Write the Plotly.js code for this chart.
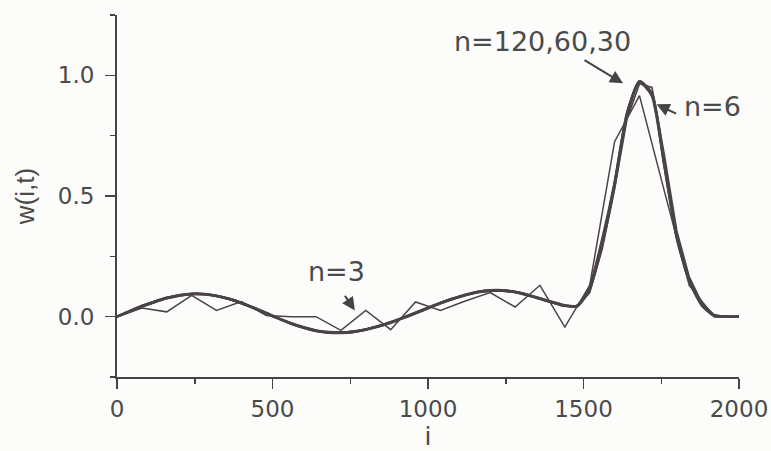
<!DOCTYPE html>
<html>
<head>
<meta charset="utf-8">
<script src="https://cdn.plot.ly/plotly-3.0.1.min.js"></script>
<style>html,body{margin:0;padding:0;background:#fcfcfa;}#chart{width:771px;height:451px;}</style>
</head>
<body>
<div id="chart"></div>
<script>
// site index i for the fine curves (step 40)
var iFine = [0,40,80,120,160,200,240,280,320,360,400,440,480,520,560,600,640,680,720,760,800,840,880,920,960,1000,1040,1080,1120,1160,1200,1240,1280,1320,1360,1400,1440,1480,1520,1560,1600,1640,1680,1720,1760,1800,1840,1880,1920,1960,2000];
var wN120 = [0.000,0.022,0.043,0.061,0.077,0.088,0.094,0.093,0.086,0.073,0.056,0.036,0.014,-0.008,-0.028,-0.045,-0.058,-0.065,-0.066,-0.062,-0.053,-0.040,-0.024,-0.005,0.015,0.036,0.056,0.074,0.090,0.102,0.108,0.108,0.102,0.090,0.075,0.060,0.046,0.045,0.120,0.310,0.550,0.840,0.975,0.920,0.630,0.330,0.150,0.050,0.005,0.000,0.000];
var wN60  = [0.000,0.023,0.044,0.062,0.078,0.089,0.095,0.094,0.087,0.074,0.057,0.037,0.015,-0.007,-0.027,-0.044,-0.057,-0.064,-0.066,-0.063,-0.054,-0.041,-0.025,-0.006,0.014,0.035,0.055,0.073,0.089,0.101,0.107,0.108,0.103,0.091,0.076,0.061,0.047,0.044,0.115,0.300,0.545,0.835,0.975,0.925,0.635,0.335,0.152,0.050,0.005,0.000,0.000];
var wN30  = [0.000,0.021,0.042,0.060,0.076,0.087,0.093,0.093,0.086,0.074,0.057,0.036,0.014,-0.008,-0.029,-0.046,-0.059,-0.066,-0.067,-0.063,-0.053,-0.040,-0.023,-0.004,0.016,0.037,0.057,0.075,0.091,0.103,0.109,0.109,0.102,0.090,0.074,0.059,0.045,0.046,0.125,0.320,0.555,0.845,0.972,0.915,0.625,0.325,0.148,0.048,0.004,0.000,0.000];
var wN6   = [0.000,0.024,0.046,0.064,0.079,0.090,0.096,0.094,0.086,0.072,0.055,0.035,0.013,-0.009,-0.030,-0.046,-0.059,-0.066,-0.066,-0.061,-0.052,-0.039,-0.023,-0.004,0.017,0.038,0.058,0.076,0.091,0.103,0.108,0.107,0.100,0.088,0.073,0.058,0.044,0.042,0.100,0.280,0.530,0.820,0.965,0.950,0.670,0.355,0.165,0.058,0.008,0.000,0.000];
// coarse curve n=3 (step 80)
var iN3 = [0,80,160,240,320,400,480,560,640,720,800,880,960,1040,1120,1200,1280,1360,1440,1520,1600,1680,1760,1840,1920,2000];
var wN3 = [0.000,0.036,0.020,0.088,0.026,0.063,0.005,0.000,0.000,-0.057,0.026,-0.054,0.061,0.026,0.065,0.100,0.040,0.130,-0.043,0.130,0.725,0.916,0.520,0.130,0.000,0.000];

var lineCol = '#4a4447';
var traces = [
  {x:iFine, y:wN120, name:'n=120', mode:'lines', line:{color:lineCol, width:2.6, shape:'spline', smoothing:0.6}},
  {x:iFine, y:wN60,  name:'n=60',  mode:'lines', line:{color:lineCol, width:2.6, shape:'spline', smoothing:0.6}},
  {x:iFine, y:wN30,  name:'n=30',  mode:'lines', line:{color:lineCol, width:2.6, shape:'spline', smoothing:0.6}},
  {x:iFine, y:wN6,   name:'n=6',   mode:'lines', line:{color:lineCol, width:1.7}},
  {x:iN3,   y:wN3,   name:'n=3',   mode:'lines', line:{color:lineCol, width:1.5}}
];

var wide = 'DejaVu Sans, Verdana, sans-serif';
var txtFont = {family:wide, size:27, color:'#4a4a4a'};
var layout = {
  width:771, height:451,
  paper_bgcolor:'#fcfcfa', plot_bgcolor:'#fcfcfa',
  margin:{l:117, r:32, t:15, b:74},
  showlegend:false,
  xaxis:{
    range:[0,2000], tickvals:[0,500,1000,1500,2000], ticktext:['0','500','1000','1500','2000'],
    ticks:'outside', ticklen:10, tickwidth:1.5, tickcolor:'#444',
    minor:{tickvals:[250,750,1250,1750], ticks:'outside', ticklen:5, tickwidth:1.5, tickcolor:'#444'},
    showline:true, linecolor:'#444', linewidth:2, showgrid:false, zeroline:false,
    tickfont:{family:wide, size:23, color:'#4a4a4a'},
    title:{text:'i', font:{family:wide, size:25, color:'#4a4a4a'}, standoff:2}
  },
  yaxis:{
    range:[-0.25,1.25], tickvals:[0,0.5,1.0], ticktext:['0.0','0.5','1.0'],
    ticks:'outside', ticklen:10, tickwidth:1.5, tickcolor:'#444',
    minor:{tickvals:[-0.25,0.25,0.75,1.25], ticks:'outside', ticklen:5, tickwidth:1.5, tickcolor:'#444'},
    showline:true, linecolor:'#444', linewidth:2, showgrid:false, zeroline:false,
    ticklabelstandoff:6,
    tickfont:{family:wide, size:23, color:'#4a4a4a'},
    title:{text:'w(i,t)', font:{family:'Liberation Sans, Arial, sans-serif', size:26, color:'#4a4a4a'}, standoff:16}
  },
  annotations:[
    {x:1367, y:1.141, xref:'x', yref:'y', text:'n=120,60,30', showarrow:false, font:txtFont},
    {x:1627, y:0.967, xref:'x', yref:'y', text:'', showarrow:true, ax:-40, ay:-24, arrowhead:2, arrowsize:1.3, arrowwidth:2, arrowcolor:'#444'},
    {x:1916, y:0.871, xref:'x', yref:'y', text:'n=6', showarrow:false, font:txtFont},
    {x:1735, y:0.88, xref:'x', yref:'y', text:'', showarrow:true, ax:21, ay:10, arrowhead:2, arrowsize:1.3, arrowwidth:2, arrowcolor:'#444'},
    {x:707, y:0.186, xref:'x', yref:'y', text:'n=3', showarrow:false, font:txtFont},
    {x:765, y:0.026, xref:'x', yref:'y', text:'', showarrow:true, ax:-11, ay:-16, arrowhead:2, arrowsize:1.3, arrowwidth:2, arrowcolor:'#444'}
  ]
};
Plotly.newPlot('chart', traces, layout, {displayModeBar:false, staticPlot:true});
</script>
</body>
</html>
